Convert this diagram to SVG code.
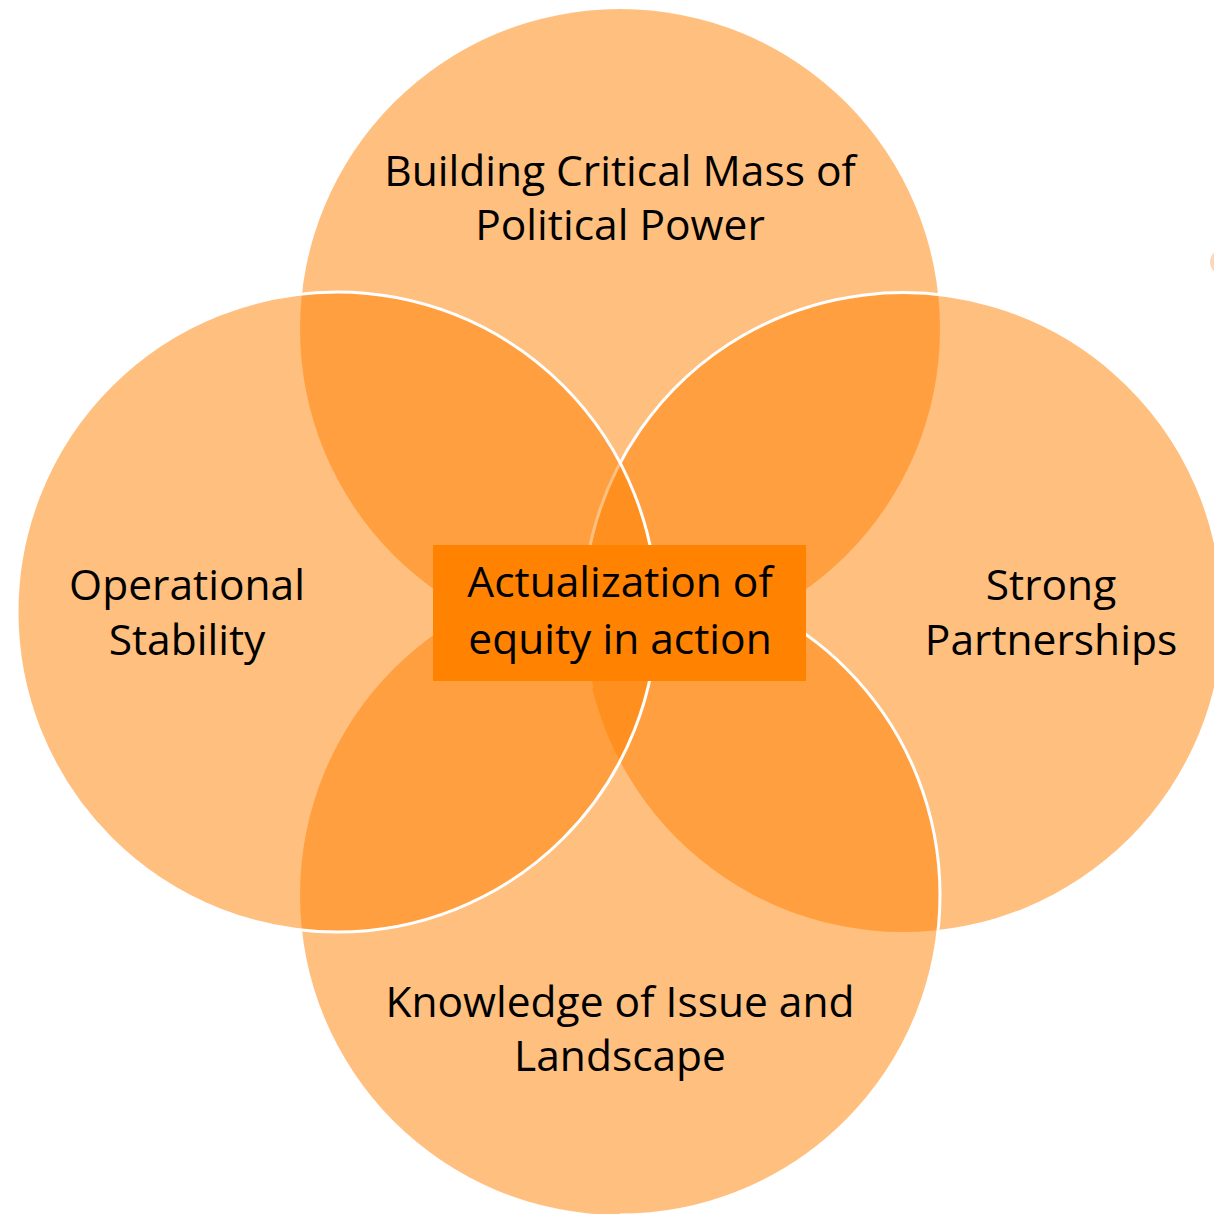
<svg xmlns="http://www.w3.org/2000/svg" width="1214" height="1214" viewBox="0 0 1214 1214">
<style>
.c{fill:#FF8000;fill-opacity:0.5}
.s{fill:none;stroke:#FFFFFF;stroke-width:3}
.t{font-family:"Open Sans","Noto Sans","Liberation Sans",sans-serif;font-size:42.5px;fill:#000000;text-anchor:middle}
</style>
<rect width="1214" height="1214" fill="#FFFFFF"/>
<ellipse cx="1217" cy="262" rx="7" ry="10" fill="#F9D6BC"/>
<g id="node-top">
<circle class="c" cx="620" cy="329" r="320"/>
<text class="t" x="620" y="186">Building Critical Mass of</text>
<text class="t" x="620" y="240">Political Power</text>
</g>
<g id="node-right">
<circle class="c" cx="903" cy="612" r="320"/>
<path class="s" d="M 592 688 A 320 320 0 1 1 1223 612"/>
<text class="t" x="1051" y="600">Strong</text>
<text class="t" x="1051" y="655">Partnerships</text>
</g>
<g id="node-bottom">
<circle class="c" cx="620" cy="895" r="320"/>
<path class="s" d="M 620 575 A 320 320 0 0 1 620 1215"/>
<text class="t" x="620" y="1017">Knowledge of Issue and</text>
<text class="t" x="620" y="1071">Landscape</text>
</g>
<g id="node-left">
<circle class="c" cx="337" cy="612" r="320" stroke="#FFFFFF" stroke-width="3"/>
<text class="t" x="187" y="600">Operational</text>
<text class="t" x="187" y="655">Stability</text>
</g>
<g id="connectors"></g>
<g id="node-center">
<rect x="433" y="545" width="373" height="136" fill="#FF8300"/>
<text class="t" x="620" y="597">Actualization of</text>
<text class="t" x="620" y="654">equity in action</text>
</g>
</svg>
